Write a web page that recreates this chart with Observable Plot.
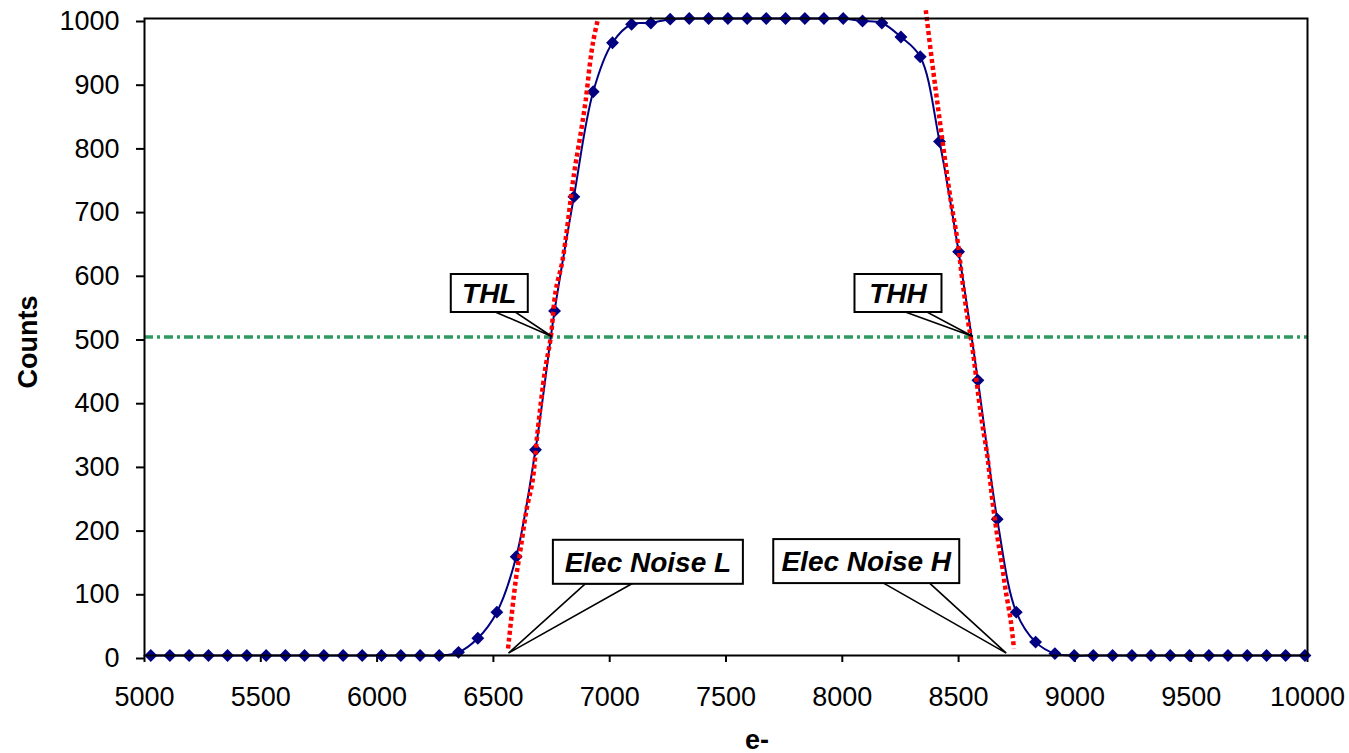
<!DOCTYPE html>
<html><head><meta charset="utf-8">
<script src="https://cdn.jsdelivr.net/npm/d3@7"></script>
<script src="https://cdn.jsdelivr.net/npm/@observablehq/plot@0.6"></script>
<style>html,body{margin:0;padding:0;background:#fff} svg{display:block}</style>
</head><body><div id="chart"></div>
<script>
// ---- data ----
const electrons = [5027,5109,5192,5275,5357,5440,5523,5606,5688,5771,5854,5936,6019,6102,6185,6267,
  6350,6433,6515,6598,6681,6763,6846,6929,7012,7094,7177,7260,7342,7425,7508,7591,7673,7756,7839,7921,
  8004,8087,8170,8252,8335,8418,8500,8583,8666,8748,8831,8914,8997,9079,9162,9245,9327,9410,9493,9576,
  9658,9741,9824,9906,9989];
const counts = [0,0,0,0,0,0,0,0,0,0,0,0,0,0,0,0,
  5,27,68,155,323,541,720,885,962,991,993,999,1000,1000,1000,1000,1000,1000,1000,1000,
  1000,996,993,971,940,807,634,432,214,68,21,3,0,0,0,0,0,0,0,0,
  0,0,0,0,0];
const fitLowX  = [6563,6596,6618,6643,6668,6689,6722,6746,6768,6797,6847,6875,6897,6915,6930,6950];
const fitLowY  = [11,118,170,230,273,348,448,498,573,620,757,819,872,929,966,1000];
const fitHighX = [8359,8387,8416,8466,8495,8516,8540,8559,8595,8624,8645,8667,8688,8702,8724,8738];
const fitHighY = [1013,929,848,715,652,589,526,484,380,312,244,186,139,103,55,11];
const thresholdLevel = [500];
const xTicks = [5000,5500,6000,6500,7000,7500,8000,8500,9000,9500,10000];
const yTicks = [0,100,200,300,400,500,600,700,800,900,1000];
const xTitle = "e-";
const yTitle = "Counts";
const calloutLabels = ["THL","THH","Elec Noise L","Elec Noise H"];
const calloutX = [6754,8564,6567,8707];
const calloutY = [500,500,3,3];

// ---- tables ----
const series = electrons.map((x,i)=>({x, y:counts[i]}));
const fitLow = fitLowX.map((x,i)=>({x, y:fitLowY[i]}));
const fitHigh = fitHighX.map((x,i)=>({x, y:fitHighY[i]}));

// ---- layout ----
const W=1349, H=753, mL=144, mR=42, mT=18, mB=98;
const FONT = "'Liberation Sans', Arial, Helvetica, sans-serif";
const FS = 27;
const diamond = {draw(ctx, size){ const r = Math.sqrt(size)*0.62625; ctx.moveTo(0,-r); ctx.lineTo(r,0); ctx.lineTo(0,r); ctx.lineTo(-r,0); ctx.closePath(); }};
const redStyle = {stroke:"#FF0000", strokeWidth:4.5, strokeDasharray:"4 3", strokeLinecap:"butt", strokeLinejoin:"miter", curve:"catmull-rom"};

const plot = Plot.plot({
  width:W, height:H, marginLeft:mL, marginRight:mR, marginTop:mT, marginBottom:mB,
  style:{fontFamily:FONT, fontSize:FS+"px", background:"#fff", color:"#000", overflow:"visible"},
  x:{domain:[5000,10000]},
  y:{domain:[0,1000]},
  marks:[
    Plot.axisX({ticks:xTicks, tickSize:7, tickPadding:24, strokeWidth:2, label:null, fontSize:FS, tickFormat:d=>String(d)}),
    Plot.axisY({ticks:yTicks, tickSize:8, tickPadding:17, strokeWidth:2, label:null, fontSize:FS, tickFormat:d=>String(d), dy:3}),
    Plot.ruleY(thresholdLevel, {stroke:"#2E9A62", strokeWidth:3.5, strokeDasharray:"9 4 3 4", strokeLinecap:"butt"}),
    Plot.line(series, {x:"x", y:"y", stroke:"#000080", strokeWidth:2, curve:"catmull-rom"}),
    Plot.dot(series, {x:"x", y:"y", symbol:diamond, r:5.8, fill:"#000080", stroke:"none"}),
    Plot.line(fitLow, {x:"x", y:"y", ...redStyle}),
    Plot.line(fitHigh, {x:"x", y:"y", ...redStyle}),
    Plot.frame({stroke:"#000", strokeWidth:2})
  ]
});
document.getElementById("chart").appendChild(plot);

const svg = d3.select(plot);
const sx = plot.scale("x"), sy = plot.scale("y");

// axis titles
svg.append("text").attr("x", 757).attr("y", 749).attr("text-anchor","middle")
  .attr("font-family", FONT).attr("font-size", FS).attr("font-weight","bold").attr("fill","#000").text(xTitle);
svg.append("text").attr("transform","translate(37,342) rotate(-90)").attr("text-anchor","middle")
  .attr("font-family", FONT).attr("font-size", FS).attr("font-weight","bold").attr("fill","#000").text(yTitle);

// callouts: box centre offset from tip, size, wedge base offsets from box centre
const calloutLayout = [
  {dx:-62.7, dy:-43.5, w:77,  h:38, b1:6,     b2:26},
  {dx:-75,   dy:-43.5, w:87,  h:38, b1:7.3,   b2:29},
  {dx:139.4, dy:-91.3, w:190, h:44, b1:-62.7, b2:-16},
  {dx:-140,  dy:-92,   w:186, h:44, b1:17.3,  b2:63.3}
];
const g = svg.append("g");
calloutLabels.forEach((lab,i)=>{
  const tx = sx.apply(calloutX[i]), ty = sy.apply(calloutY[i]);
  const L = calloutLayout[i];
  const cx = tx + L.dx, cy = ty + L.dy, bottom = cy + L.h/2;
  g.append("path")
    .attr("d", `M${cx+L.b1},${bottom}L${tx},${ty}L${cx+L.b2},${bottom}Z`)
    .attr("fill","#fff").attr("stroke","#000").attr("stroke-width",1.6).attr("stroke-linejoin","miter");
  g.append("rect").attr("x", cx-L.w/2).attr("y", cy-L.h/2).attr("width", L.w).attr("height", L.h)
    .attr("fill","#fff").attr("stroke","#000").attr("stroke-width",2);
  g.append("text").attr("x", cx).attr("y", cy+10).attr("text-anchor","middle")
    .attr("font-family", FONT).attr("font-size", 28).attr("font-weight","bold").attr("font-style","italic")
    .attr("fill","#000").text(lab);
});
</script>
</body></html>
